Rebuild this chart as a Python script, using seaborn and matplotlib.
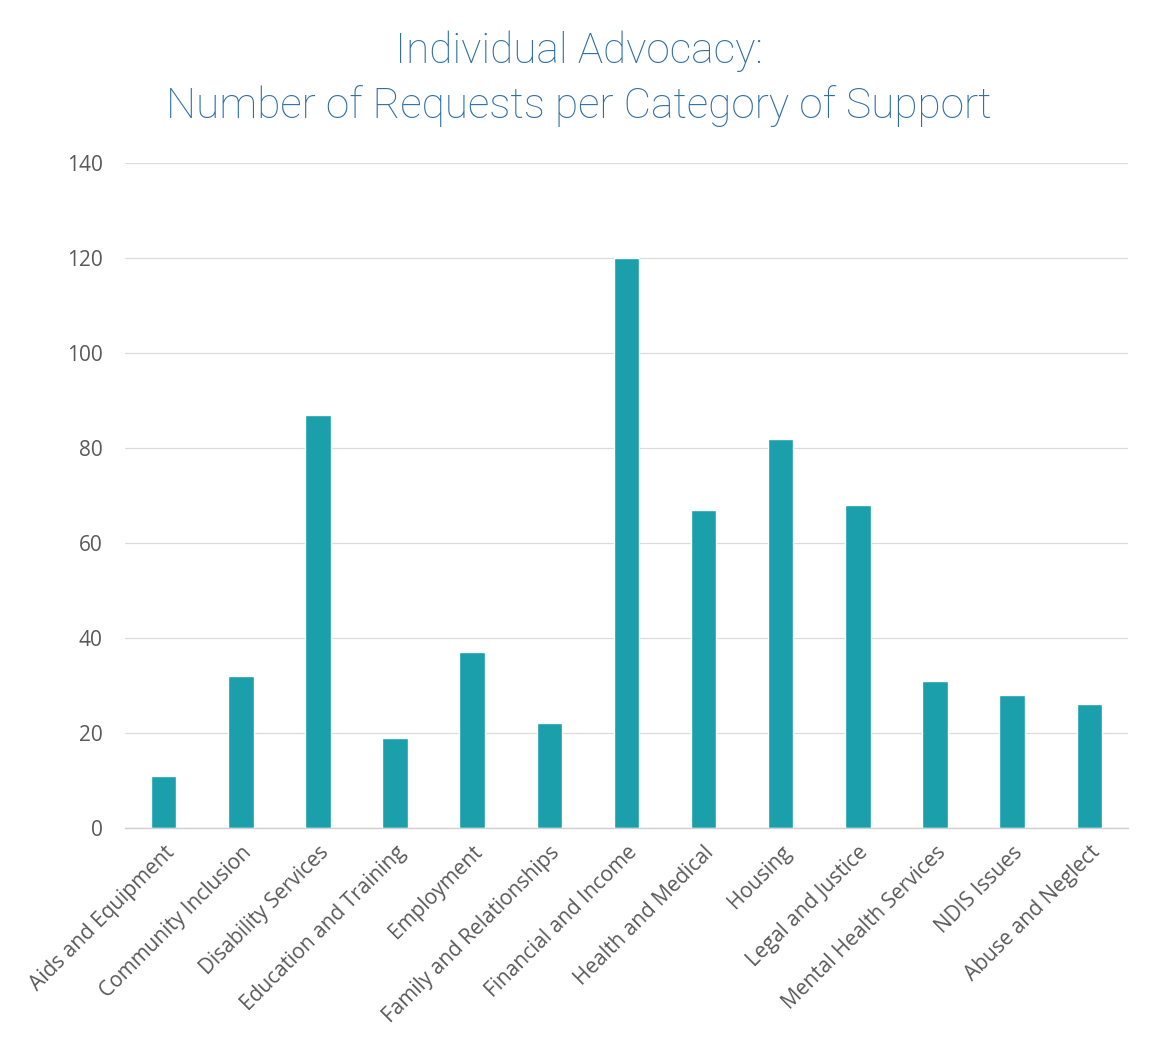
import pandas as pd
import matplotlib.pyplot as plt
import seaborn as sns

# --- Dados ---
categories = [
    'Aids and Equipment', 'Community Inclusion', 'Disability Services',
    'Education and Training', 'Employment', 'Family and Relationships',
    'Financial and Income', 'Health and Medical', 'Housing',
    'Legal and Justice', 'Mental Health Services', 'NDIS Issues',
    'Abuse and Neglect',
]
requests = [11, 32, 87, 19, 37, 22, 120, 67, 82, 68, 31, 28, 26]
y_ticks = [0, 20, 40, 60, 80, 100, 120, 140]

df = pd.DataFrame({'category': categories, 'requests': requests})

sns.set_theme(style="white")
plt.rcParams['font.family'] = ['Open Sans', 'DejaVu Sans']

fig = plt.figure(figsize=(11.58, 10.52), dpi=100)
ax = fig.add_axes([0.108, 0.213, 0.866, 0.632])

sns.barplot(data=df, x='category', y='requests', color='#1a9fab',
            width=0.33, saturation=1, ax=ax)

ax.set_xlim(-0.5, len(categories) - 0.5)
ax.set_ylim(0, 140)
ax.set_yticks(y_ticks)
ax.yaxis.grid(True, color='#dcdcdc', linewidth=0.9)
ax.set_axisbelow(True)
for side in ['top', 'right', 'left']:
    ax.spines[side].set_visible(False)
ax.spines['bottom'].set_color('#d0d0d0')
ax.spines['bottom'].set_linewidth(1.0)
ax.tick_params(axis='both', length=0, colors='#595959')
ax.tick_params(axis='y', pad=16, labelsize=15)
ax.tick_params(axis='x', pad=10, labelsize=15)
ax.set_xlabel('')
ax.set_ylabel('')
plt.setp(ax.get_xticklabels(), rotation=45, ha='right',
         rotation_mode='anchor')

title_font = ['Roboto', 'DejaVu Sans']
fig.text(0.5, 0.951, 'Individual Advocacy:', ha='center', va='center',
         fontsize=30.5, color='#2f6fa5', family=title_font,
         fontweight='light')
fig.text(0.5, 0.899, 'Number of Requests per Category of Support',
         ha='center', va='center', fontsize=30.5, color='#2f6fa5',
         family=title_font, fontweight='light')

plt.savefig('out.png', dpi=100)
